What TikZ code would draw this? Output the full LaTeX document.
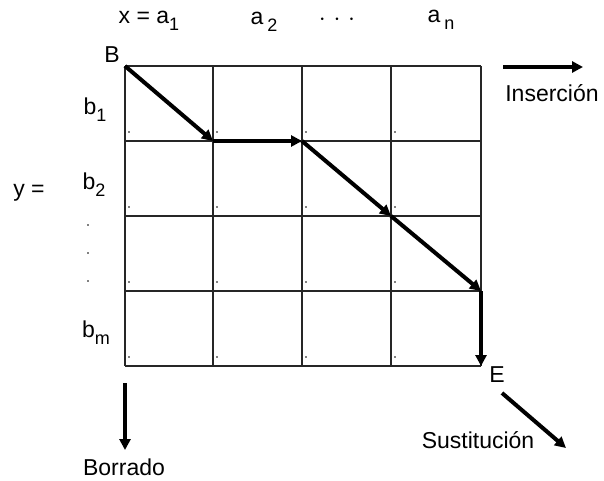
\documentclass[tikz,border=0pt]{standalone}
\usepackage{fontspec}
\setmainfont{Liberation Sans}
\usetikzlibrary{arrows.meta,positioning}
\newcommand{\idx}[1]{\raisebox{-0.55ex}{\fontsize{18}{18}\selectfont #1}}

\begin{document}
\begin{tikzpicture}[
  x=1pt,y=-1pt,
  >={Triangle[length=11pt,width=11pt]},
  gridline/.style={draw=black!85,line width=1.5pt},
  move/.style={line width=4pt,->},
  every node/.style={font=\fontsize{23}{26}\selectfont,inner sep=0pt}
]
  \useasboundingbox (0,0) rectangle (604,481);
  % grid
  \foreach \i/\x in {0/125,1/213,2/302,3/391,4/481}
    \foreach \j/\y in {0/66,1/141,2/216,3/291,4/366}
      \coordinate (g-\i-\j) at (\x,\y);
  \foreach \i in {0,...,4}
    \draw[gridline] (g-\i-0) -- (g-\i-4);
  \foreach \j in {0,...,4}
    \draw[gridline] (g-0-\j) -- (g-4-\j);
  \foreach \i in {0,...,3}
    \foreach \j in {1,...,4}
      \fill ([shift={(4,-9)}]g-\i-\j) circle (0.8);
  % alignment path
  \draw[move] (g-0-0) -- (g-1-1);
  \draw[move] (g-1-1) -- (g-2-1);
  \draw[move] (g-2-1) -- (g-3-2);
  \draw[move] (g-3-2) -- (g-4-3);
  \draw[move] (g-4-3) -- (g-4-4);
  \node (begin) at (112,55) {B};
  \node (end) at (497,375) {E};
  % labels of the sequences
  \node (xa1) at (149,21) {x = a\idx{1}};
  \node (a2) at (264,22) {a\,\idx{2}};
  \node (adots) at (337,20) {$\cdot$\,\,$\cdot$\,\,$\cdot$};
  \node (an) at (441,20) {a\,\idx{n}};
  \node (b1) at (95,110) {b\idx{1}};
  \node (b2) at (94,185) {b\idx{2}};
  \node (bm) at (96,333) {b\idx{m}};
  \node (yeq) at (29,193) {y =};
  \foreach \k/\y in {1/225,2/253,3/281}
    \fill (88,\y) circle (0.9);
  % operations
  \coordinate (ins-a) at (503,67);
  \coordinate (ins-b) at (583,67);
  \draw[move] (ins-a) -- (ins-b);
  \node (ins) at (552,93) {Inserción};
  \coordinate (bor-a) at (125,383);
  \coordinate (bor-b) at (125,450);
  \draw[move] (bor-a) -- (bor-b);
  \node (bor) at (124,467) {Borrado};
  \coordinate (sus-a) at (502,393);
  \coordinate (sus-b) at (566,448);
  \draw[move] (sus-a) -- (sus-b);
  \node (sus) at (478,440) {Sustitución};
\end{tikzpicture}
\end{document}
